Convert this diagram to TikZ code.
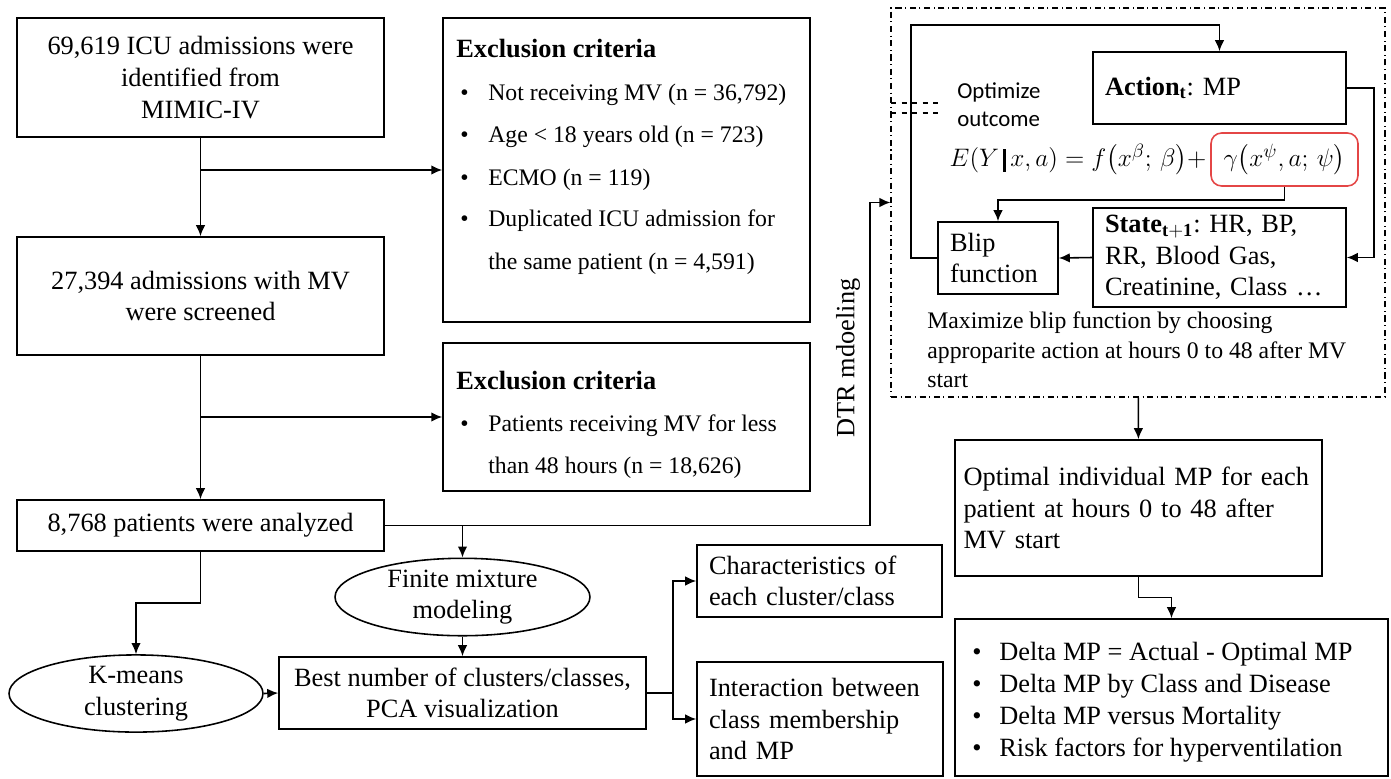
\documentclass[tikz,border=0pt]{standalone}
\usepackage{amsmath}
\usepackage{fontspec}
\setmainfont{Liberation Serif}
\newfontfamily\cali{Carlito}
\usepackage{xcolor}
\usetikzlibrary{arrows.meta,positioning,calc,shapes.geometric}
\definecolor{rd}{RGB}{228,70,70}
\newcommand{\fa}{\fontsize{15}{18}\selectfont}
\newcommand{\fb}{\fontsize{13.5}{16}\selectfont}
\newcommand{\fq}{\fontsize{15.3}{18}\selectfont}
\newcommand{\bbar}{\rule[-3pt]{1.6pt}{13pt}}

\tikzset{
  bx/.style={draw,line width=0.9pt,inner sep=0pt,align=center,font=\fa},
  lbx/.style={draw,line width=0.9pt,inner xsep=0.24cm,inner ysep=0pt,align=left,font=\fa},
  ov/.style={draw,ellipse,line width=0.9pt,inner sep=0pt,align=center,font=\fa},
  ar/.style={-{Latex[length=2.2mm,width=1.9mm]},line width=0.9pt},
  ln/.style={anchor=west,inner sep=0pt},
}

\begin{document}
\begin{tikzpicture}[x=0.02cm,y=-0.02cm]
  \useasboundingbox (0,0) rectangle (1391,778);

  % left column
  \node[bx,minimum width=7.34cm,minimum height=2.38cm] (icu) at (200.5,77.5) {69,619 ICU admissions were\\identified from\\MIMIC-IV};
  \node[bx,minimum width=7.34cm,minimum height=2.36cm] (mv) at (200.5,296) {27,394 admissions with MV\\were screened};
  \node[bx,minimum width=7.34cm,minimum height=1.02cm] (ana) at (200.5,525.5) {8,768 patients were analyzed};

  % exclusion boxes
  \node[bx,minimum width=7.34cm,minimum height=6.08cm] (exa) at (626.5,170) {};
  \node[ln,font=\fa\bfseries] (exah) at (456,49) {Exclusion criteria};
  \node[ln,font=\fb] (exa1) at (460,95) {\makebox[0.56cm][l]{\textbullet}Not receiving MV (n = 36,792)};
  \node[ln,font=\fb] (exa2) at (460,137) {\makebox[0.56cm][l]{\textbullet}Age < 18 years old (n = 723)};
  \node[ln,font=\fb] (exa3) at (460,180) {\makebox[0.56cm][l]{\textbullet}ECMO (n = 119)};
  \node[ln,font=\fb] (exa4) at (460,221) {\makebox[0.56cm][l]{\textbullet}Duplicated ICU admission for};
  \node[ln,font=\fb] (exa5) at (488,264) {the same patient (n = 4,591)};

  \node[bx,minimum width=7.34cm,minimum height=2.96cm] (exb) at (626.5,417) {};
  \node[ln,font=\fa\bfseries] (exbh) at (456,381) {Exclusion criteria};
  \node[ln,font=\fb] (exb1) at (460,426) {\makebox[0.56cm][l]{\textbullet}Patients receiving MV for less};
  \node[ln,font=\fb] (exb2) at (488,468) {than 48 hours (n = 18,626)};

  \draw[ar] (icu) -- (mv);
  \draw[ar] (icu.south |- exa.west) -- (exa.west);
  \draw[ar] (mv) -- (ana);
  \draw[ar] (mv.south |- exb.west) -- (exb.west);

  % clustering part
  \node[ov,minimum width=5.1cm,minimum height=1.44cm] (fmm) at (462.5,597) {Finite mixture\\modeling};
  \node[ov,minimum width=5.08cm,minimum height=1.46cm] (km) at (136,693.5) {K-means\\clustering};
  \node[bx,minimum width=7.34cm,minimum height=1.44cm] (best) at (462.5,693) {Best number of clusters/classes,\\PCA visualization};
  \node[lbx,text width=4.42cm,minimum height=1.44cm] (chr) at (819.5,581) {Characteristics of\\each cluster/class};
  \node[lbx,text width=4.44cm,minimum height=2.28cm] (intr) at (820,719) {Interaction between\\class membership\\and MP};

  \draw[ar] (fmm.north |- ana.east) -- (fmm.north);
  \draw[ar] (ana.south) |- ($(ana.south)!.5!(km.north)$) -| (km.north);
  \draw[ar] (fmm) -- (best);
  \draw[ar] (km.east) -- (best.west);
  \draw[ar] (best.east) -- ++(26,0) |- (chr.west);
  \draw[ar] (best.east) -- ++(26,0) |- (intr.west);

  % DTR modeling
  \coordinate (dtrj) at (870,0);
  \node[draw,line width=0.7pt,dash pattern=on 3.5pt off 2pt on 0.6pt off 2pt,minimum width=9.88cm,minimum height=7.78cm,inner sep=0pt] (dtr) at (1138,202.5) {};
  \node[rotate=90,font=\fa] (dtrl) at (848,358) {DTR mdoeling};
  \draw[ar] (ana.east) -| (dtrj |- dtr.west) -- (dtr.west);

  \node[lbx,text width=4.58cm,minimum height=1.44cm] (act) at (1219.5,88) {\textbf{Action}$_{\mathbf{t}}$:\ MP};
  \node[lbx,text width=4.58cm,minimum height=1.98cm] (st) at (1219.5,257.5) {\textbf{State}$_{\mathbf{t+1}}$:\ HR, BP,\\RR, Blood Gas,\\Creatinine, Class \dots};
  \node[lbx,text width=1.92cm,minimum height=1.44cm] (blip) at (998,258) {Blip\\function};
  \node[draw=rd,rounded corners=6pt,line width=0.9pt,minimum width=2.94cm,minimum height=1.06cm,inner sep=0pt,font=\fq] (gam) at (1284.5,159.5) {$\gamma\big(x^{\psi},a;\,\psi\big)$};
  \node[anchor=east,inner sep=2pt,font=\fq] (eq) at (gam.west) {$E(Y\,\bbar\,x,a)=f\big(x^{\beta};\,\beta\big)+$};
  \node[anchor=west,inner sep=0pt,align=left,font=\cali\fontsize{13}{16}\selectfont] (optz) at (957,105) {Optimize\\outcome};
  \draw[dashed,line width=0.6pt] (891,103) -- (940,103);
  \draw[dashed,line width=0.6pt] (891,113) -- (940,113);

  \draw[ar] (blip.west) -- ++(-26,0) |- ($(act.north)+(0,-26)$) -- (act.north);
  \draw[ar] (act.east) -- ++(27,0) |- (st.east);
  \draw[ar] (st.west) -- (blip.east);
  \draw[ar] (gam.south) -- ++(0,13) -| (blip.north);

  \node[ln,font=\fontsize{13.5}{16}\selectfont] (cap1) at (927,323) {Maximize blip function by choosing};
  \node[ln,font=\fontsize{13.5}{16}\selectfont] (cap2) at (927,353) {approparite action at hours 0 to 48 after MV};
  \node[ln,font=\fontsize{13.5}{16}\selectfont] (cap3) at (927,381) {start};

  % results
  \node[lbx,inner xsep=0.17cm,text width=7.0cm,minimum height=2.72cm] (opt) at (1138.5,508) {Optimal individual MP for each\\patient at hours 0 to 48 after\\MV start};
  \node[bx,minimum width=8.66cm,minimum height=3.14cm] (dlt) at (1171.5,697.5) {};
  \node[ln,font=\fa] (dlt1) at (972,654) {\makebox[0.54cm][l]{\textbullet}Delta MP = Actual - Optimal MP};
  \node[ln,font=\fa] (dlt2) at (972,686) {\makebox[0.54cm][l]{\textbullet}Delta MP by Class and Disease};
  \node[ln,font=\fa] (dlt3) at (972,718) {\makebox[0.54cm][l]{\textbullet}Delta MP versus Mortality};
  \node[ln,font=\fa] (dlt4) at (972,750) {\makebox[0.54cm][l]{\textbullet}Risk factors for hyperventilation};

  \draw[ar] (dtr) -- (opt);
  \draw[ar] (opt.south) |- ($(opt.south)!.5!(dlt.north)$) -| (dlt.north);
\end{tikzpicture}
\end{document}
